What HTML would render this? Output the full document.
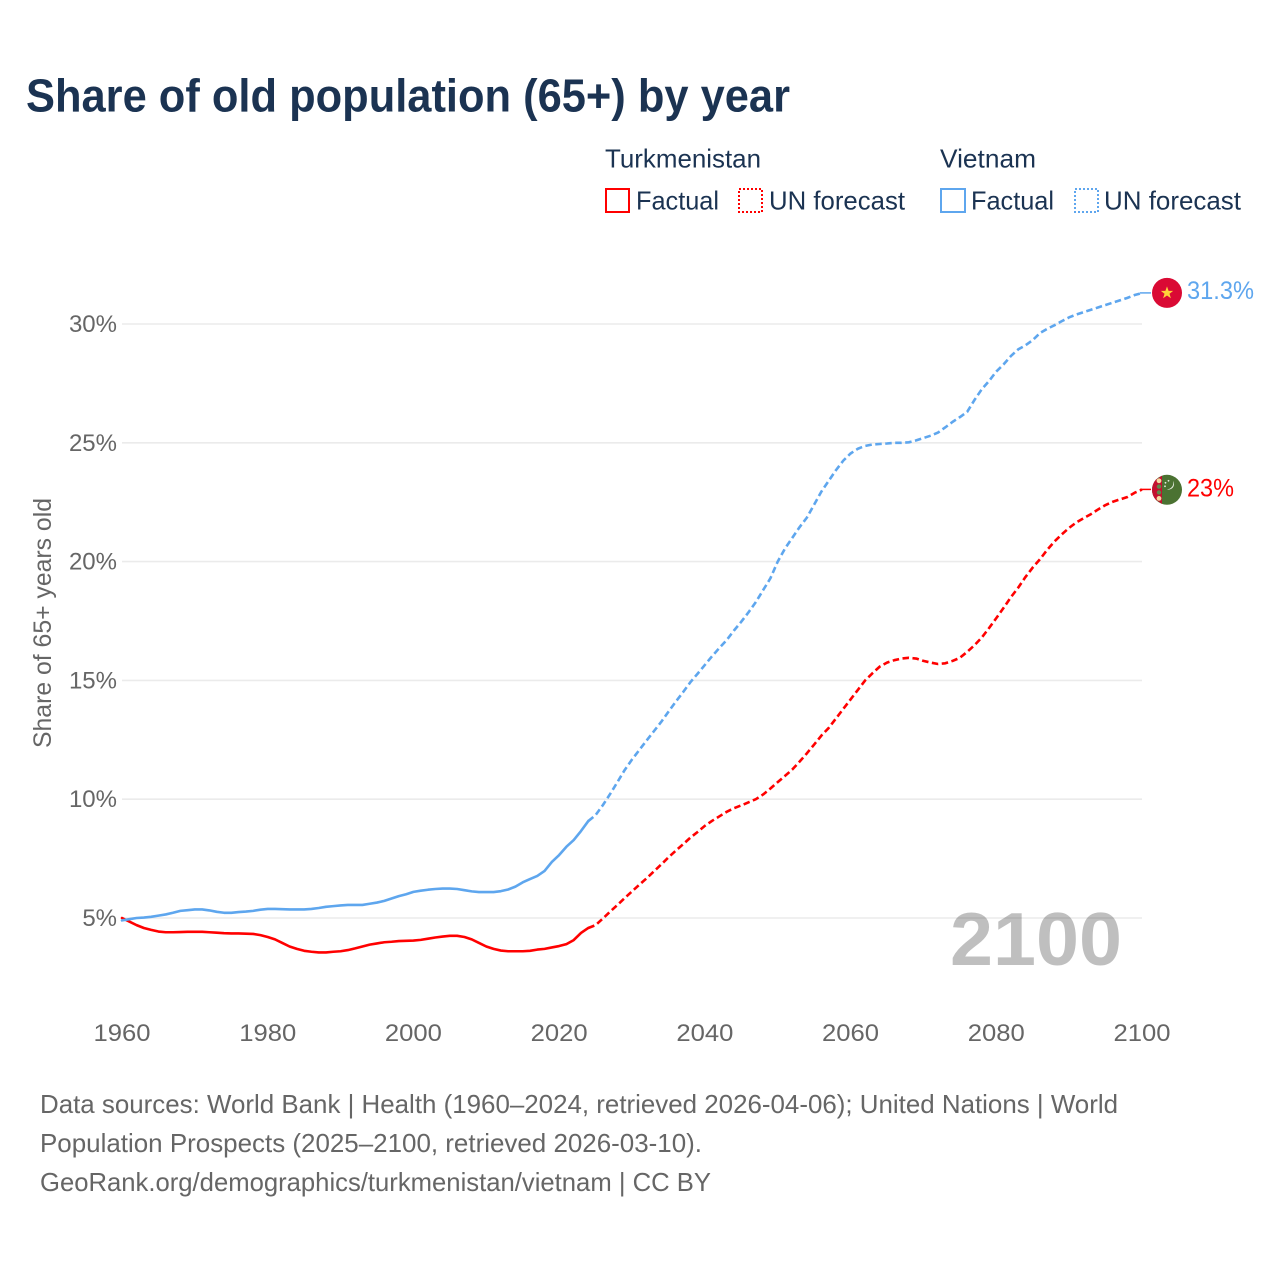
<!DOCTYPE html>
<html lang="en">
<head>
<meta charset="utf-8">
<title>Share of old population (65+) by year</title>
<style>
html,body{margin:0;padding:0;background:#fff;width:1280px;height:1280px;overflow:hidden}
svg{display:block}
text{font-family:"Liberation Sans",sans-serif}
.navy{fill:#1b3352}
.grey{fill:#666666}
</style>
</head>
<body>
<svg id="chart" xmlns="http://www.w3.org/2000/svg" width="1280" height="1280" viewBox="0 0 1280 1280">
  <rect x="0" y="0" width="1280" height="1280" fill="#ffffff"/>
  <text class="navy" x="26" y="111.5" font-size="46" font-weight="700" textLength="764" lengthAdjust="spacingAndGlyphs">Share of old population (65+) by year</text>

  <g>
    <text class="navy" x="605" y="167.5" font-size="26" textLength="156" lengthAdjust="spacingAndGlyphs">Turkmenistan</text>
    <rect x="606" y="189" width="23" height="23" fill="none" stroke="#ff0000" stroke-width="2"/>
    <text class="navy" x="636" y="209.5" font-size="26" textLength="83" lengthAdjust="spacingAndGlyphs">Factual</text>
    <rect x="739" y="189" width="23" height="23" fill="none" stroke="#ff0000" stroke-width="2" stroke-dasharray="2 2"/>
    <text class="navy" x="769" y="209.5" font-size="26" textLength="136" lengthAdjust="spacingAndGlyphs">UN forecast</text>

    <text class="navy" x="940" y="167.5" font-size="26" textLength="96" lengthAdjust="spacingAndGlyphs">Vietnam</text>
    <rect x="941" y="189" width="24" height="23" fill="none" stroke="#5ea6ee" stroke-width="2"/>
    <text class="navy" x="971" y="209.5" font-size="26" textLength="83" lengthAdjust="spacingAndGlyphs">Factual</text>
    <rect x="1075" y="189" width="23" height="23" fill="none" stroke="#5ea6ee" stroke-width="2" stroke-dasharray="2 2"/>
    <text class="navy" x="1104" y="209.5" font-size="26" textLength="137" lengthAdjust="spacingAndGlyphs">UN forecast</text>
  </g>

  <g id="grid"></g>
  <g id="yticks"></g>
  <g id="xticks"></g>
  <text class="grey" transform="translate(51,748) rotate(-90)" x="0" y="0" font-size="25" textLength="250" lengthAdjust="spacingAndGlyphs">Share of 65+ years old</text>
  <g id="series"></g>
  <text x="950" y="965" font-size="75" font-weight="700" fill="#000000" fill-opacity="0.25" textLength="172" lengthAdjust="spacingAndGlyphs">2100</text>

  <g id="flag-vn">
    <circle cx="0" cy="0" r="15" fill="#da0a34"/>
    <polygon points="0,-6.5 1.6,-2 6.2,-2 2.5,0.8 3.9,5.3 0,2.6 -3.9,5.3 -2.5,0.8 -6.2,-2 -1.6,-2" fill="#ffd23a"/>
  </g>
  <g id="flag-tm">
    <circle cx="0" cy="0" r="15" fill="#4b7232"/>
    <path d="M-11.2,-10 A15,15 0 0 0 -11.2,10 L-5,14.1 L-5,-14.1 Z" fill="#c3112f"/>
    <circle cx="-8" cy="-9" r="2.4" fill="#f3d9a0"/>
    <circle cx="-8" cy="-3.2" r="2.2" fill="#5d8a4a"/>
    <circle cx="-8" cy="2.6" r="2.2" fill="#5d8a4a"/>
    <circle cx="-8" cy="8.6" r="2.4" fill="#f3d9a0"/>
    <path d="M6,-9 A6.4,6.4 0 0 1 -0.5,-0.5 A5.6,5.6 0 0 0 6,-9 Z" fill="#e6ece0"/>
    <circle cx="-1.5" cy="-7" r="0.9" fill="#e6ece0"/>
    <circle cx="1.5" cy="-9" r="0.9" fill="#e6ece0"/>
    <circle cx="-2" cy="-3.5" r="0.9" fill="#e6ece0"/>
  </g>
  <text id="label-vn" x="1187" font-size="25" fill="#5ea6ee"></text>
  <text id="label-tm" x="1187" font-size="25" fill="#ff0000"></text>

  <g>
    <text class="grey" x="40" y="1113" font-size="26" textLength="1078" lengthAdjust="spacingAndGlyphs">Data sources: World Bank | Health (1960–2024, retrieved 2026-04-06); United Nations | World</text>
    <text class="grey" x="40" y="1152" font-size="26" textLength="662" lengthAdjust="spacingAndGlyphs">Population Prospects (2025–2100, retrieved 2026-03-10).</text>
    <text class="grey" x="40" y="1191" font-size="26" textLength="671" lengthAdjust="spacingAndGlyphs">GeoRank.org/demographics/turkmenistan/vietnam | CC BY</text>
  </g>
</svg>
<script>
const firstFactualYear = 1960;
const firstForecastYear = 2025;
const xTickYears = [1960, 1980, 2000, 2020, 2040, 2060, 2080, 2100];
const yTickValues = [5, 10, 15, 20, 25, 30];
const turkmenistanFactual = [
  5.0, 4.85, 4.7, 4.58, 4.5, 4.43, 4.4, 4.4, 4.41, 4.42,
  4.42, 4.42, 4.4, 4.38, 4.36, 4.35, 4.35, 4.34, 4.33, 4.28,
  4.2, 4.1, 3.95, 3.8, 3.7, 3.62, 3.58, 3.55, 3.55, 3.58,
  3.6, 3.65, 3.72, 3.8, 3.88, 3.93, 3.98, 4.0, 4.03, 4.04,
  4.05, 4.08, 4.13, 4.18, 4.22, 4.25, 4.25, 4.2, 4.1, 3.95,
  3.8, 3.7, 3.63, 3.6, 3.6, 3.6, 3.62, 3.67, 3.7, 3.76,
  3.82, 3.9, 4.07, 4.37, 4.58
];
const turkmenistanForecast = [
  4.7, 4.98, 5.27, 5.55, 5.84, 6.12, 6.4, 6.67, 6.96, 7.25,
  7.55, 7.83, 8.1, 8.38, 8.62, 8.88, 9.09, 9.28, 9.47, 9.62,
  9.74, 9.87, 10.0, 10.2, 10.45, 10.72, 10.98, 11.25, 11.58, 11.93,
  12.3, 12.68, 13.0, 13.4, 13.8, 14.2, 14.6, 15.0, 15.3, 15.58,
  15.75, 15.85, 15.92, 15.95, 15.92, 15.82, 15.75, 15.69, 15.72, 15.82,
  15.95, 16.2, 16.48, 16.8, 17.2, 17.62, 18.05, 18.5, 18.9, 19.35,
  19.75, 20.1, 20.5, 20.85, 21.15, 21.42, 21.65, 21.83, 22.0, 22.2,
  22.38, 22.52, 22.62, 22.72, 22.9, 23.03
];
const vietnamFactual = [
  4.9, 4.95, 5.0, 5.02, 5.05, 5.1, 5.15, 5.22, 5.3, 5.33,
  5.36, 5.36, 5.32, 5.26, 5.22, 5.22, 5.25, 5.27, 5.3, 5.35,
  5.38, 5.38, 5.37, 5.36, 5.36, 5.36, 5.38, 5.42, 5.47, 5.5,
  5.53, 5.55, 5.55, 5.55, 5.6, 5.65, 5.72, 5.82, 5.92, 6.0,
  6.1, 6.15, 6.19, 6.22, 6.24, 6.24, 6.22, 6.17, 6.12, 6.09,
  6.09, 6.09, 6.13, 6.2, 6.32, 6.5, 6.64, 6.77, 6.98, 7.36,
  7.65, 8.0, 8.28, 8.66, 9.08
];
const vietnamForecast = [
  9.33, 9.75, 10.22, 10.72, 11.23, 11.67, 12.07, 12.47, 12.86, 13.25,
  13.68, 14.1, 14.5, 14.92, 15.28, 15.65, 16.02, 16.37, 16.7, 17.1,
  17.47, 17.87, 18.3, 18.8, 19.3, 20.0, 20.55, 21.0, 21.45, 21.85,
  22.4, 22.95, 23.4, 23.85, 24.25, 24.55, 24.75, 24.87, 24.93, 24.95,
  24.97, 25.0, 25.0, 25.02, 25.1, 25.2, 25.3, 25.43, 25.65, 25.88,
  26.08, 26.3, 26.8, 27.25, 27.6, 28.0, 28.3, 28.65, 28.93, 29.1,
  29.32, 29.62, 29.8, 29.95, 30.12, 30.28, 30.4, 30.5, 30.6, 30.7,
  30.8, 30.9, 31.0, 31.1, 31.22, 31.3
];

const NS = 'http://www.w3.org/2000/svg';
function xScale(year) { return 122 + (year - 1960) * (1020 / 140); }
function yScale(value) { return 1036.8 - value * 23.76; }
function make(tag, attrs, parent) {
  const el = document.createElementNS(NS, tag);
  for (const k in attrs) el.setAttribute(k, attrs[k]);
  parent.appendChild(el);
  return el;
}
function pathFrom(startYear, values) {
  return values.map(function (v, i) {
    return (i ? 'L' : 'M') + xScale(startYear + i).toFixed(2) + ',' + yScale(v).toFixed(2);
  }).join(' ');
}

const gridG = document.getElementById('grid');
const yG = document.getElementById('yticks');
yTickValues.forEach(function (v) {
  const line = make('line', { x1: 122, x2: 1142, y1: yScale(v), y2: yScale(v), stroke: '#ebebeb', 'stroke-width': 1.6 }, gridG);
  
  
  const t = make('text', { x: 117, y: yScale(v) + 8, 'text-anchor': 'end', 'font-size': 24, fill: '#666666' }, yG);
  
  
  t.textContent = v + '%';
});

const xG = document.getElementById('xticks');
xTickYears.forEach(function (year) {
  const t = make('text', { x: xScale(year) - 28.5, y: 1041, 'font-size': 24, fill: '#666666', textLength: 57, lengthAdjust: 'spacingAndGlyphs' }, xG);
  
  
  t.textContent = year;
});

const seriesG = document.getElementById('series');
function drawSeries(key, color, factual, forecast) {
  const lastFactualYear = firstFactualYear + factual.length - 1;
  const solid = make('path', { d: pathFrom(firstFactualYear, factual), fill: 'none', stroke: color, 'stroke-width': 2.6, 'stroke-linejoin': 'round', 'stroke-linecap': 'round' }, seriesG);
  
  
  const dashedD = 'M' + xScale(lastFactualYear).toFixed(2) + ',' + yScale(factual[factual.length - 1]).toFixed(2) + ' ' +
    pathFrom(firstForecastYear, forecast).replace(/^M/, 'L');
  const dashed = make('path', { d: dashedD, fill: 'none', stroke: color, 'stroke-width': 2.6, 'stroke-dasharray': '6.5 3.5', 'stroke-linejoin': 'round' }, seriesG);
  
  
  const lastValue = forecast[forecast.length - 1];
  const endY = yScale(lastValue);
  const tail = make('line', { x1: 1140, x2: 1151, y1: endY - 0.2, y2: endY - 0.2, stroke: color, 'stroke-width': 1.5 }, seriesG);
  
  
  return { lastValue: lastValue, endY: endY };
}
const tm = drawSeries('turkmenistan', '#ff0000', turkmenistanFactual, turkmenistanForecast);
const vn = drawSeries('vietnam', '#5ea6ee', vietnamFactual, vietnamForecast);

document.getElementById('flag-vn').setAttribute('transform', 'translate(1167,' + (vn.endY - 0.2) + ')');
document.getElementById('flag-tm').setAttribute('transform', 'translate(1167,' + (tm.endY + 0.2) + ')');
const labelVn = document.getElementById('label-vn');
labelVn.setAttribute('y', vn.endY + 6);
labelVn.setAttribute('textLength', 67);
labelVn.setAttribute('lengthAdjust', 'spacingAndGlyphs');
labelVn.textContent = vn.lastValue.toFixed(1) + '%';
const labelTm = document.getElementById('label-tm');
labelTm.setAttribute('y', tm.endY + 7);
labelTm.setAttribute('textLength', 47);
labelTm.setAttribute('lengthAdjust', 'spacingAndGlyphs');
labelTm.textContent = Math.round(tm.lastValue) + '%';
</script>
</body>
</html>
